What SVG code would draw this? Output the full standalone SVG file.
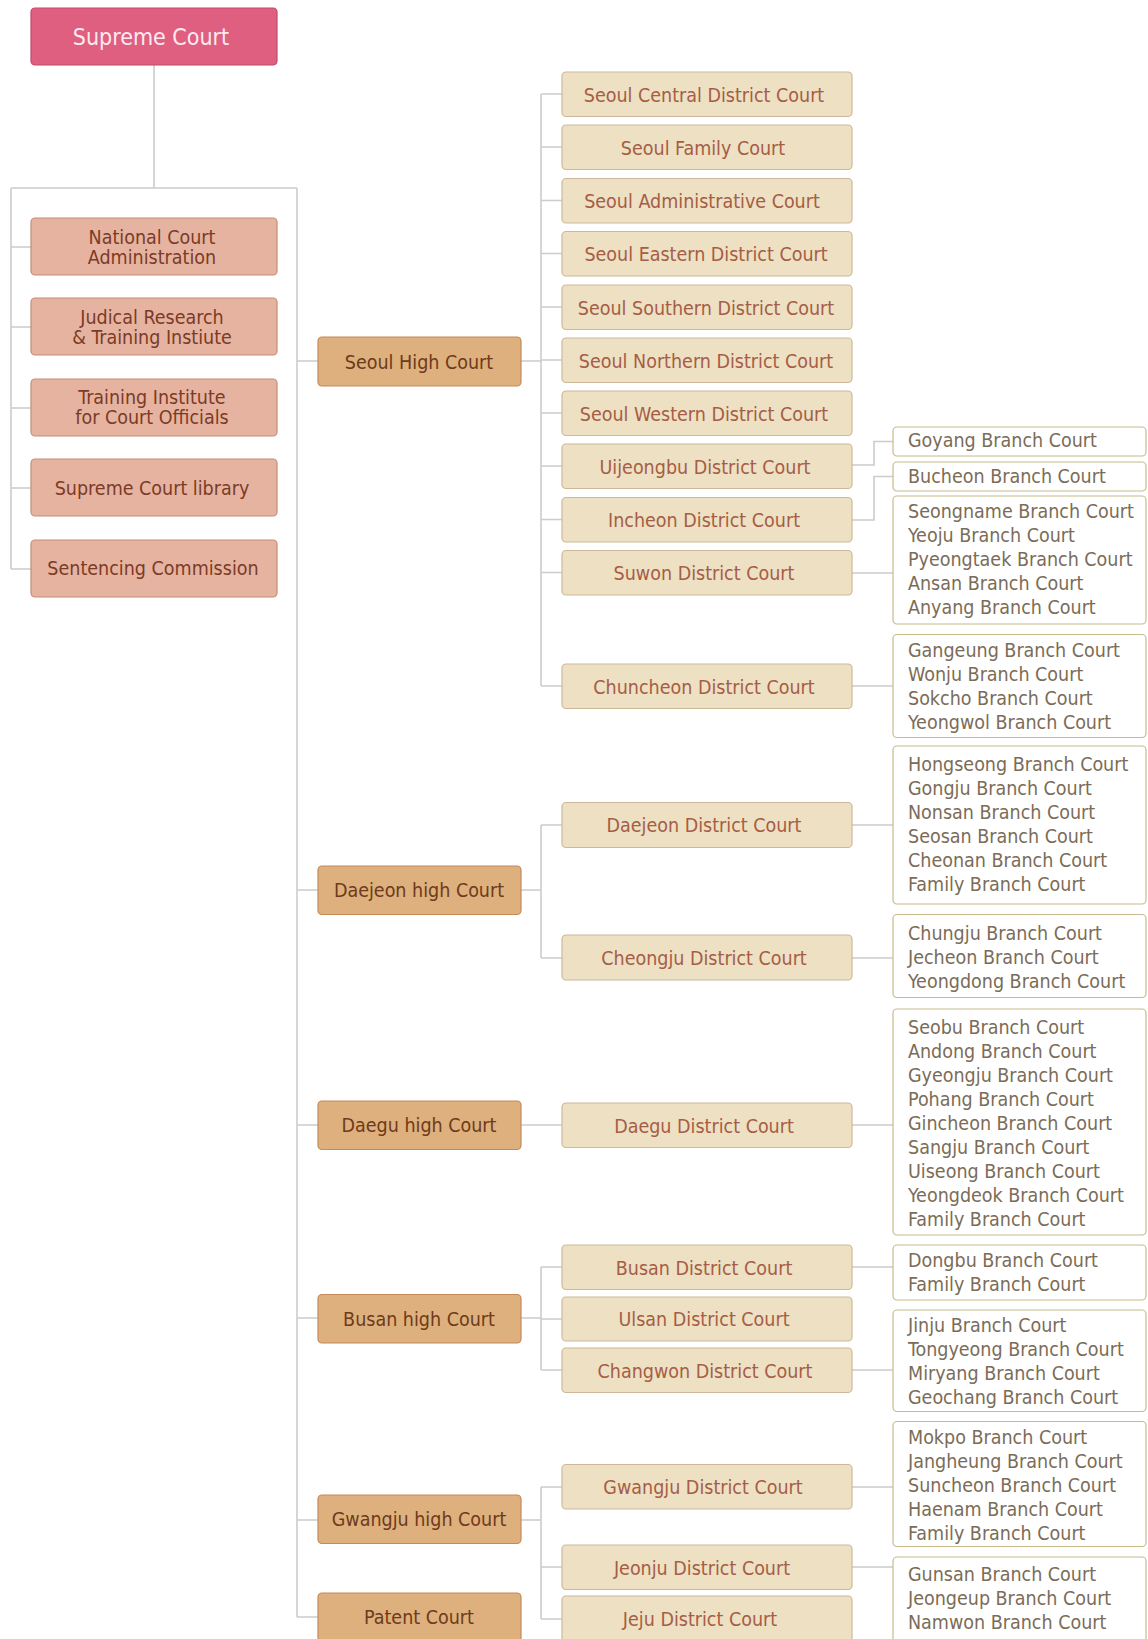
<svg xmlns="http://www.w3.org/2000/svg" width="1148" height="1639" viewBox="0 0 1148 1639">
<style>
text{font-family:"DejaVu Sans Condensed","Liberation Sans",sans-serif;font-size:19.5px;text-anchor:middle}
.sup rect{fill:#de5f7f;stroke:#c24a68;stroke-width:1.2}
.sup text{fill:#fdeaf0;font-size:23px}
.adm rect{fill:#e6b3a0;stroke:#c48e7a;stroke-width:1.2}
.adm text{fill:#7b3b26}
.hi rect{fill:#ddb07d;stroke:#c48a58;stroke-width:1.2}
.hi text{fill:#6e3a1a}
.di rect{fill:#ede0c3;stroke:#cdb99a;stroke-width:1.2}
.di text{fill:#a65d45}
.br rect{fill:#ffffff;stroke:#c9bb8c;stroke-width:1.2}
.br text{fill:#7b6c57;text-anchor:start}
#connectors path{fill:none;stroke:#cccccc;stroke-width:1.6}
</style>
<rect width="1148" height="1639" fill="#ffffff"/>
<g id="connectors">
<path d="M154 65V188M11 188H297M11 188V569M11 247H31M11 327H31M11 408H31M11 488H31M11 569H31"/>
<path d="M297 188V1617M297 361H318M297 890H318M297 1125H318M297 1318H318M297 1520H318M297 1617H318"/>
<path d="M521 361H541M541 94V686M541 94H562M541 147H562M541 200.5H562M541 253.5H562M541 307H562M541 360H562M541 413H562M541 466H562M541 519.5H562M541 572.5H562M541 686H562"/>
<path d="M521 890H541M541 825V958M541 825H562M541 958H562"/>
<path d="M521 1125H562"/>
<path d="M521 1318H541M541 1267V1370M541 1267H562M541 1319H562M541 1370H562"/>
<path d="M521 1520H541M541 1487V1619M541 1487H562M541 1567H562M541 1619H562"/>
<path d="M852 465H874V441.5H893M852 520H874V476.5H893M852 573H893M852 686H893M852 825H893M852 958H893M852 1125H893M852 1267H893M852 1370H893M852 1487H893M852 1567H893"/>
</g>
<g id="supreme-court" class="sup"><rect x="31" y="8" width="246" height="57" rx="4"/><text x="151" y="45">Supreme Court</text></g>
<g id="national-court-administration" class="adm"><rect x="31" y="218" width="246" height="57" rx="4"/><text x="152" y="243.5">National Court</text><text x="152" y="263.5">Administration</text></g>
<g id="judical-research" class="adm"><rect x="31" y="298" width="246" height="57" rx="4"/><text x="152" y="323.5">Judical Research</text><text x="152" y="344">&amp; Training Instiute</text></g>
<g id="training-institute" class="adm"><rect x="31" y="379" width="246" height="57" rx="4"/><text x="152" y="403.5">Training Institute</text><text x="152" y="424">for Court Officials</text></g>
<g id="supreme-court-library" class="adm"><rect x="31" y="459" width="246" height="57" rx="4"/><text x="152" y="495">Supreme Court library</text></g>
<g id="sentencing-commission" class="adm"><rect x="31" y="540" width="246" height="57" rx="4"/><text x="153" y="575">Sentencing Commission</text></g>
<g id="seoul-high-court" class="hi"><rect x="318" y="337" width="203" height="49" rx="4"/><text x="419" y="368.5">Seoul High Court</text></g>
<g id="daejeon-high-court" class="hi"><rect x="318" y="866" width="203" height="48.5" rx="4"/><text x="419" y="897">Daejeon high Court</text></g>
<g id="daegu-high-court" class="hi"><rect x="318" y="1101" width="203" height="48.5" rx="4"/><text x="419" y="1132">Daegu high Court</text></g>
<g id="busan-high-court" class="hi"><rect x="318" y="1294.5" width="203" height="48.5" rx="4"/><text x="419" y="1325.5">Busan high Court</text></g>
<g id="gwangju-high-court" class="hi"><rect x="318" y="1495" width="203" height="48.5" rx="4"/><text x="419" y="1526">Gwangju high Court</text></g>
<g id="patent-court" class="hi"><rect x="318" y="1593" width="203" height="48.5" rx="4"/><text x="419" y="1624">Patent Court</text></g>
<g id="seoul-central-district-court" class="di"><rect x="562" y="72" width="290" height="44.5" rx="4"/><text x="704" y="101.5">Seoul Central District Court</text></g>
<g id="seoul-family-court" class="di"><rect x="562" y="125" width="290" height="44.5" rx="4"/><text x="703" y="154.5">Seoul Family Court</text></g>
<g id="seoul-administrative-court" class="di"><rect x="562" y="178.5" width="290" height="44.5" rx="4"/><text x="702" y="208">Seoul Administrative Court</text></g>
<g id="seoul-eastern-district-court" class="di"><rect x="562" y="231.5" width="290" height="44.5" rx="4"/><text x="706" y="261">Seoul Eastern District Court</text></g>
<g id="seoul-southern-district-court" class="di"><rect x="562" y="285" width="290" height="44.5" rx="4"/><text x="706" y="314.5">Seoul Southern District Court</text></g>
<g id="seoul-northern-district-court" class="di"><rect x="562" y="338" width="290" height="44.5" rx="4"/><text x="706" y="367.5">Seoul Northern District Court</text></g>
<g id="seoul-western-district-court" class="di"><rect x="562" y="391" width="290" height="44.5" rx="4"/><text x="704" y="420.5">Seoul Western District Court</text></g>
<g id="uijeongbu-district-court" class="di"><rect x="562" y="444" width="290" height="44.5" rx="4"/><text x="705" y="473.5">Uijeongbu District Court</text></g>
<g id="incheon-district-court" class="di"><rect x="562" y="497.5" width="290" height="44.5" rx="4"/><text x="704" y="527">Incheon District Court</text></g>
<g id="suwon-district-court" class="di"><rect x="562" y="550.5" width="290" height="44.5" rx="4"/><text x="704" y="580">Suwon District Court</text></g>
<g id="chuncheon-district-court" class="di"><rect x="562" y="664" width="290" height="44.5" rx="4"/><text x="704" y="693.5">Chuncheon District Court</text></g>
<g id="daejeon-district-court" class="di"><rect x="562" y="802.5" width="290" height="45" rx="4"/><text x="704" y="832">Daejeon District Court</text></g>
<g id="cheongju-district-court" class="di"><rect x="562" y="935" width="290" height="45" rx="4"/><text x="704" y="964.5">Cheongju District Court</text></g>
<g id="daegu-district-court" class="di"><rect x="562" y="1103" width="290" height="44.5" rx="4"/><text x="704" y="1132.5">Daegu District Court</text></g>
<g id="busan-district-court" class="di"><rect x="562" y="1245" width="290" height="44.5" rx="4"/><text x="704" y="1274.5">Busan District Court</text></g>
<g id="ulsan-district-court" class="di"><rect x="562" y="1297" width="290" height="44" rx="4"/><text x="704" y="1326">Ulsan District Court</text></g>
<g id="changwon-district-court" class="di"><rect x="562" y="1348" width="290" height="44.5" rx="4"/><text x="705" y="1377.5">Changwon District Court</text></g>
<g id="gwangju-district-court" class="di"><rect x="562" y="1464.5" width="290" height="44.5" rx="4"/><text x="703" y="1494">Gwangju District Court</text></g>
<g id="jeonju-district-court" class="di"><rect x="562" y="1545" width="290" height="44.5" rx="4"/><text x="702" y="1574.5">Jeonju District Court</text></g>
<g id="jeju-district-court" class="di"><rect x="562" y="1596" width="290" height="46" rx="4"/><text x="700" y="1626">Jeju District Court</text></g>
<g id="goyang-branch" class="br"><rect x="893" y="427" width="253" height="29" rx="4"/><text x="908" y="447">Goyang Branch Court</text></g>
<g id="bucheon-branch" class="br"><rect x="893" y="462" width="253" height="29" rx="4"/><text x="908" y="482.5">Bucheon Branch Court</text></g>
<g id="suwon-branches" class="br"><rect x="893" y="496" width="253" height="128" rx="4"/><text x="908" y="517.5">Seongname Branch Court</text><text x="908" y="541.5">Yeoju Branch Court</text><text x="908" y="565.5">Pyeongtaek Branch Court</text><text x="908" y="589.5">Ansan Branch Court</text><text x="908" y="613.5">Anyang Branch Court</text></g>
<g id="chuncheon-branches" class="br"><rect x="893" y="634.5" width="253" height="103" rx="4"/><text x="908" y="656.5">Gangeung Branch Court</text><text x="908" y="680.5">Wonju Branch Court</text><text x="908" y="704.5">Sokcho Branch Court</text><text x="908" y="728.5">Yeongwol Branch Court</text></g>
<g id="daejeon-branches" class="br"><rect x="893" y="746" width="253" height="158" rx="4"/><text x="908" y="771">Hongseong Branch Court</text><text x="908" y="795">Gongju Branch Court</text><text x="908" y="819">Nonsan Branch Court</text><text x="908" y="843">Seosan Branch Court</text><text x="908" y="867">Cheonan Branch Court</text><text x="908" y="891">Family Branch Court</text></g>
<g id="cheongju-branches" class="br"><rect x="893" y="914.5" width="253" height="83" rx="4"/><text x="908" y="939.5">Chungju Branch Court</text><text x="908" y="963.5">Jecheon Branch Court</text><text x="908" y="987.5">Yeongdong Branch Court</text></g>
<g id="daegu-branches" class="br"><rect x="893" y="1009" width="253" height="226" rx="4"/><text x="908" y="1033.7">Seobu Branch Court</text><text x="908" y="1057.7">Andong Branch Court</text><text x="908" y="1081.7">Gyeongju Branch Court</text><text x="908" y="1105.7">Pohang Branch Court</text><text x="908" y="1129.7">Gincheon Branch Court</text><text x="908" y="1153.7">Sangju Branch Court</text><text x="908" y="1177.7">Uiseong Branch Court</text><text x="908" y="1201.7">Yeongdeok Branch Court</text><text x="908" y="1225.7">Family Branch Court</text></g>
<g id="busan-branches" class="br"><rect x="893" y="1245" width="253" height="55" rx="4"/><text x="908" y="1267">Dongbu Branch Court</text><text x="908" y="1291">Family Branch Court</text></g>
<g id="changwon-branches" class="br"><rect x="893" y="1310" width="253" height="101.5" rx="4"/><text x="908" y="1331.7">Jinju Branch Court</text><text x="908" y="1355.7">Tongyeong Branch Court</text><text x="908" y="1379.7">Miryang Branch Court</text><text x="908" y="1403.7">Geochang Branch Court</text></g>
<g id="gwangju-branches" class="br"><rect x="893" y="1421.5" width="253" height="125" rx="4"/><text x="908" y="1443.5">Mokpo Branch Court</text><text x="908" y="1467.5">Jangheung Branch Court</text><text x="908" y="1491.5">Suncheon Branch Court</text><text x="908" y="1515.5">Haenam Branch Court</text><text x="908" y="1539.5">Family Branch Court</text></g>
<g id="jeonju-branches" class="br"><rect x="893" y="1557" width="253" height="86" rx="4"/><text x="908" y="1580.5">Gunsan Branch Court</text><text x="908" y="1604.5">Jeongeup Branch Court</text><text x="908" y="1628.5">Namwon Branch Court</text></g>
</svg>
